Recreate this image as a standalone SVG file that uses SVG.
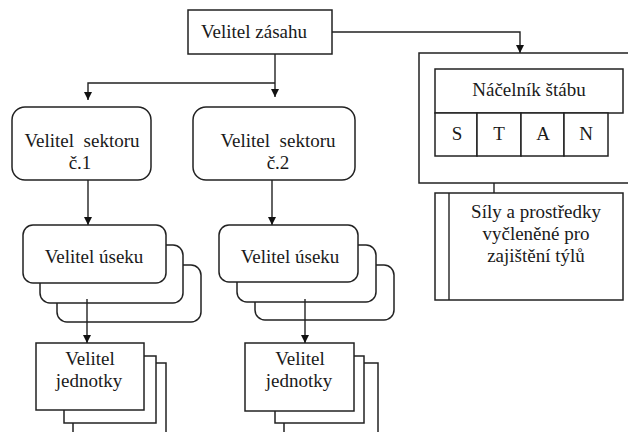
<svg xmlns="http://www.w3.org/2000/svg" width="628" height="432" viewBox="0 0 628 432">
<defs>
<marker id="arr" viewBox="0 0 10 10" refX="10" refY="5" markerWidth="8" markerHeight="8" markerUnits="userSpaceOnUse" orient="auto">
<path d="M0,0 L10,5 L0,10 z" fill="#111"/>
</marker>
</defs>
<style>
.b{fill:#fff;stroke:#222;stroke-width:1.5}
.c{fill:none;stroke:#222;stroke-width:1.4}
text{font-family:'Liberation Serif','Times New Roman','DejaVu Serif',serif;font-size:19px;fill:#1a1a1a;text-anchor:middle}
</style>
<rect width="628" height="432" fill="#fff"/>

<g id="connectors">
<path class="c" d="M275,54 V97" marker-end="url(#arr)"/>
<path class="c" d="M275,83 H88 V100" marker-end="url(#arr)"/>
<path class="c" d="M332,32 H520 V53" marker-end="url(#arr)"/>
<path class="c" d="M494,183 V193"/>
<path class="c" d="M88,180 V225" marker-end="url(#arr)"/>
<path class="c" d="M272,180 V225" marker-end="url(#arr)"/>
</g>

<g font-family="Liberation Serif, serif">
<g id="velitel-zasahu">
<rect class="b" x="188" y="10" width="144" height="44"/>
<text x="254" y="38">Velitel zásahu</text>
</g>

<g id="sektor1">
<rect class="b" x="12" y="107" width="139" height="73" rx="13"/>
<text x="82" y="147" xml:space="preserve">Velitel  sektoru</text>
<text x="80" y="169">č.1</text>
</g>

<g id="sektor2">
<rect class="b" x="193" y="107" width="162" height="73" rx="13"/>
<text x="278" y="147" xml:space="preserve">Velitel  sektoru</text>
<text x="278" y="169">č.2</text>
</g>

<g id="usek1">
<rect class="b" x="57" y="265" width="144" height="57" rx="10"/>
<rect class="b" x="40" y="245" width="143" height="58" rx="10"/>
<rect class="b" x="23" y="225" width="143" height="58" rx="10"/>
<text x="94" y="263">Velitel úseku</text>
</g>

<g id="usek2">
<rect class="b" x="255" y="265" width="139" height="55" rx="10"/>
<rect class="b" x="237" y="245" width="139" height="57" rx="10"/>
<rect class="b" x="219" y="225" width="139" height="57" rx="10"/>
<text x="290" y="263">Velitel úseku</text>
</g>

<g id="jednotka1">
<rect class="b" x="73" y="363" width="93" height="80"/>
<rect class="b" x="64" y="356" width="92" height="67"/>
<rect class="b" x="36" y="343" width="108" height="67"/>
<text x="90" y="365">Velitel</text>
<text x="89" y="387">jednotky</text>
</g>

<g id="jednotka2">
<rect class="b" x="284" y="363" width="94" height="80"/>
<rect class="b" x="275" y="356" width="89" height="67"/>
<rect class="b" x="245" y="343" width="109" height="68"/>
<text x="300" y="365">Velitel</text>
<text x="299" y="387">jednotky</text>
</g>

<g id="connectors-lower">
<path class="c" d="M87,299 V343" marker-end="url(#arr)"/>
<path class="c" d="M305,299 V343" marker-end="url(#arr)"/>
</g>

<g id="stab">
<rect class="b" x="419" y="53" width="230" height="130"/>
<rect class="b" x="435" y="69" width="188" height="44"/>
<text x="529" y="96">Náčelník štábu</text>
<rect class="b" x="435" y="113" width="42" height="43"/>
<rect class="b" x="477" y="113" width="44" height="43"/>
<rect class="b" x="521" y="113" width="43" height="43"/>
<rect class="b" x="564" y="113" width="44" height="43"/>
<text x="457" y="140">S</text>
<text x="499" y="140">T</text>
<text x="543" y="140">A</text>
<text x="586" y="140">N</text>
</g>

<g id="sily">
<rect class="b" x="435" y="193" width="188" height="107"/>
<path class="c" d="M449,193 V300"/>
<text x="536" y="218">Síly a prostředky</text>
<text x="536" y="240">vyčleněné pro</text>
<text x="536" y="262">zajištění týlů</text>
</g>
</g>
</svg>
